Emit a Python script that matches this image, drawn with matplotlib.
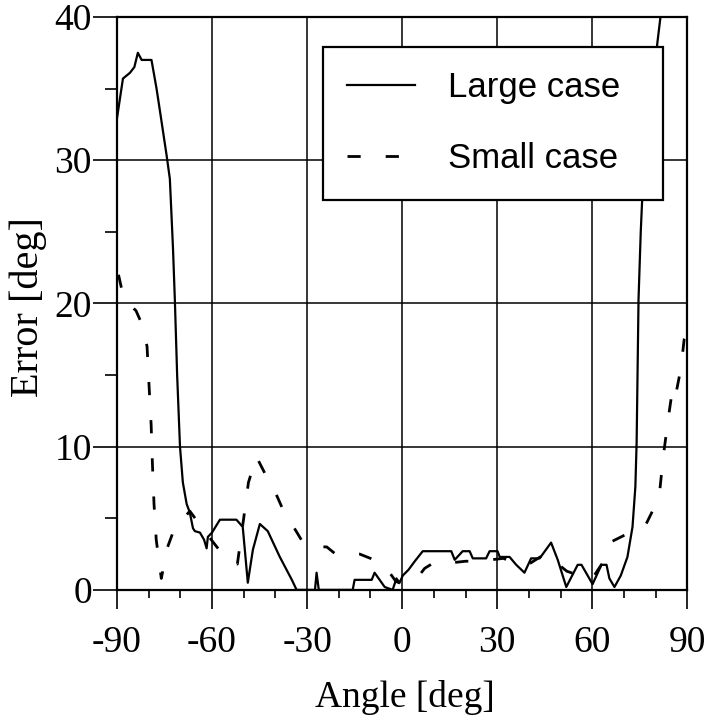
import matplotlib
matplotlib.use("Agg")
import matplotlib.pyplot as plt
import numpy as np

plt.rcParams['font.family'] = ['Liberation Serif', 'DejaVu Serif']
plt.rcParams['lines.scale_dashes'] = False
plt.rcParams['axes.unicode_minus'] = False

# Large case (solid)
large_angle = [-90, -88.1, -85.9, -84.5, -83.4, -82.2, -79.1, -77.5, -76.4, -74.3,
               -73.3, -72.3, -71.7, -71.0, -70.1, -69.2, -68.0, -67.0, -66.0, -65.4,
               -63.8, -62.5, -61.7, -61.3, -60.0, -57.5, -52.3, -50.3, -48.7, -47.1,
               -44.9, -42.4, -38.6, -34.8, -33.3, -27.5, -27.0, -26.3, -15.6, -15.0,
               -9.6, -8.7, -5.5, -3.0, -1.8, -0.8, 0.2, 2.0, 4.0, 6.5,
               15.5, 16.6, 19.1, 21.3, 22.3, 26.5, 27.6, 30.1, 30.8, 33.9,
               36.0, 38.6, 40.7, 43.4, 47.0, 49.1, 51.8, 55.4, 56.6, 60.1,
               62.9, 64.5, 65.4, 67.0, 69.0, 71.1, 72.7, 73.6, 74.0, 74.6,
               75.3, 75.9, 78.0, 80.6, 81.8]
large_err = [32.9, 35.7, 36.1, 36.5, 37.5, 37.0, 37.0, 35.0, 33.4, 30.3,
             28.7, 23.8, 20.1, 15.0, 10.0, 7.5, 6.0, 5.4, 4.3, 4.1,
             4.0, 3.5, 2.9, 3.7, 4.0, 4.9, 4.9, 4.4, 0.5, 2.8,
             4.6, 4.1, 2.3, 0.7, 0.0, 0.0, 1.2, 0.0, 0.0, 0.7,
             0.7, 1.2, 0.2, 0.0, 0.8, 0.5, 1.0, 1.4, 2.0, 2.7,
             2.7, 2.1, 2.7, 2.7, 2.2, 2.2, 2.7, 2.7, 2.3, 2.3,
             1.75, 1.2, 2.2, 2.2, 3.3, 2.1, 0.2, 1.75, 1.75, 0.4,
             1.75, 1.75, 0.8, 0.2, 1.0, 2.3, 4.4, 7.2, 10.3, 20.3,
             25.0, 28.0, 33.0, 38.3, 40.5]

# Small case (dashed)
small_angle = [-89.5, -88.0, -86.5, -84.0, -82.0, -80.5, -79.8, -79.2, -78.8, -78.3,
               -77.6, -76.0, -74.0, -72.0, -67.0, -62.0, -56.0, -52.0, -50.0, -48.5,
               -46.0, -43.0, -40.0, -37.0, -34.0, -31.0, -28.0, -23.8, -21.0, -17.2,
               -13.4, -10.0, -7.7, -4.6, -2.0, 0.0, 3.0, 5.0, 7.1, 10.0,
               14.0, 16.0, 20.0, 24.0, 28.0, 32.0, 36.0, 40.0, 45.0, 48.0,
               52.0, 56.0, 60.0, 63.0, 65.0, 66.4, 70.0, 74.0, 77.0, 79.0,
               81.2, 82.4, 84.0, 85.5, 86.5, 88.0, 89.0, 90.0]
small_err = [22.0, 20.5, 20.0, 19.5, 18.5, 17.0, 14.0, 11.5, 8.8, 6.0,
             3.5, 0.8, 3.0, 4.2, 5.5, 4.0, 2.3, 1.8, 5.0, 7.5,
             9.3, 8.0, 6.8, 5.3, 4.3, 3.2, 3.0, 3.0, 2.5, 2.5,
             2.5, 2.2, 1.9, 1.4, 0.6, 0.4, 0.7, 0.9, 1.5, 1.9,
             2.0, 1.9, 2.0, 2.0, 2.1, 2.2, 1.8, 1.8, 2.5, 2.0,
             1.3, 1.0, 0.8, 1.8, 2.8, 3.4, 3.8, 4.2, 4.6, 5.5,
             6.7, 9.3, 12.0, 14.3, 13.8, 15.5, 17.5, 18.0]

x_ticks = [-90, -60, -30, 0, 30, 60, 90]
y_ticks = [0, 10, 20, 30, 40]


def main():
    fig = plt.figure(figsize=(7.13, 7.22), dpi=100)
    ax = fig.add_axes([0.164, 0.183, 0.8, 0.7935])

    ax.plot(large_angle, large_err, "-", color="black", linewidth=1.6,
            label="Large case")
    ax.plot(small_angle, small_err, color="black", linewidth=2.0,
            dashes=(9.5, 18), label="Small case")

    ax.set_xlim(-90, 90)
    ax.set_ylim(0, 40)
    ax.set_xticks(x_ticks)
    ax.set_yticks(y_ticks)
    ax.set_xticks(np.arange(-90, 91, 10), minor=True)
    ax.set_yticks(np.arange(0, 41, 5), minor=True)

    ax.grid(True, which="major", color="black", linewidth=1.1)
    ax.tick_params(axis="both", which="major", direction="out", labelsize=27,
                   width=1.2, color="black")
    ax.tick_params(axis="x", which="major", length=14, pad=12)
    ax.tick_params(axis="y", which="major", length=17, pad=1)
    ax.tick_params(axis="x", which="minor", length=6, width=1.2)
    ax.tick_params(axis="y", which="minor", length=9, width=1.2)
    for s in ax.spines.values():
        s.set_linewidth(1.6)

    ax.set_xlabel("Angle [deg]", fontsize=27)
    ax.set_ylabel("Error [deg]", fontsize=29)
    ax.xaxis.set_label_coords(0.505, -0.158)
    ax.yaxis.set_label_coords(-0.123, 0.494)

    # legend box spans x 323..663 px, y 47..189 px
    leg = ax.legend(loc="upper left",
                    bbox_to_anchor=(323 / 713, 1 - 189 / 722, 340 / 713, 142 / 722),
                    bbox_transform=fig.transFigure, mode="expand",
                    prop={"family": "Liberation Sans", "size": 25},
                    frameon=True, fancybox=False, framealpha=1.0,
                    edgecolor="black", handlelength=1.95, handletextpad=0.95,
                    borderpad=0.7, labelspacing=1.1, borderaxespad=0)
    leg.get_frame().set_linewidth(1.6)

    fig.savefig("out.png", dpi=100)
    plt.close(fig)


if __name__ == '__main__':
    main()
